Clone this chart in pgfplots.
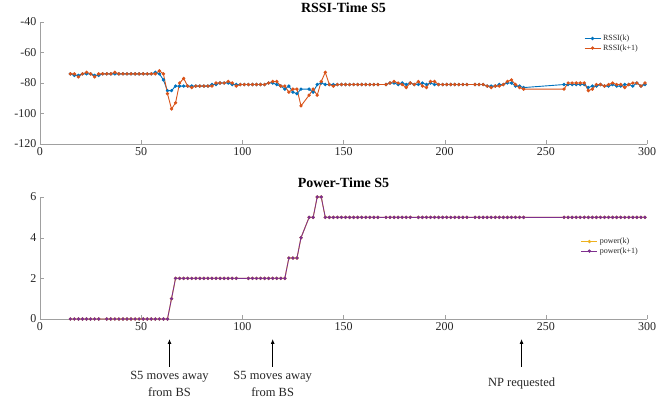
\documentclass[border=0pt]{standalone}
\usepackage{fontspec}
\setmainfont{Liberation Serif}
\usepackage{pgfplots}
\usepackage{pgfplotstable}
\pgfplotsset{compat=1.18}
\usetikzlibrary{arrows.meta}

\definecolor{mblue}{RGB}{0,114,189}
\definecolor{morange}{RGB}{217,83,25}
\definecolor{myellow}{RGB}{237,177,32}
\definecolor{mpurple}{RGB}{126,47,142}
\definecolor{axgray}{RGB}{160,160,160}
\definecolor{txtgray}{RGB}{38,38,38}

% t  rssi(k)  rssi(k+1)
\pgfplotstableread{
t k k1
15 -74 -74
17 -75 -74
19 -75 -76
21 -74 -74
23 -74 -73
25 -74 -74
27 -75 -76
29 -75 -74
31 -74 -74
33 -74 -74
35 -74 -74
37 -74 -73
39 -74 -74
41 -74 -74
43 -74 -74
45 -74 -74
47 -74 -74
49 -74 -74
51 -74 -74
53 -74 -74
55 -74 -74
57 -73 -74
59 -74 -72
61 -78 -74
63 -85 -87
65 -85 -97
67 -82 -93
69 -82 -80
71 -82 -77
73 -82 -82
75 -82 -83
77 -82 -82
79 -82 -82
81 -82 -82
83 -82 -82
85 -81 -82
87 -81 -80
89 -80 -80
91 -80 -80
93 -80 -79
95 -81 -80
97 -81 -82
99 -81 -81
101 -81 -81
103 -81 -81
105 -81 -81
107 -81 -81
109 -81 -81
111 -81 -81
113 -80 -80
115 -80 -79
117 -81 -79
119 -82 -82
121 -84 -82
123 -82 -86
125 -86 -84
127 -87 -84
129 -84 -95
133 -84 -88
135 -86 -84
137 -81 -88
139 -80 -79
141 -81 -73
143 -81 -81
145 -81 -82
147 -81 -81
149 -81 -81
151 -81 -81
153 -81 -81
155 -81 -81
157 -81 -81
159 -81 -81
161 -81 -81
163 -81 -81
165 -81 -81
167 -81 -81
171 -81 -81
173 -80 -80
175 -80 -79
177 -81 -80
179 -80 -81
181 -81 -83
183 -80 -80
185 -81 -81
187 -81 -79
189 -80 -82
191 -81 -83
193 -80 -79
195 -81 -79
197 -81 -81
199 -81 -81
201 -81 -81
203 -81 -81
205 -81 -81
207 -81 -81
209 -81 -81
211 -81 -81
215 -81 -81
217 -81 -81
219 -81 -81
221 -82 -82
223 -82 -83
225 -82 -82
227 -81 -82
229 -81 -81
231 -80 -79
233 -80 -78
235 -82 -81
237 -82 -83
239 -83 -84
259 -81 -84
261 -81 -80
263 -81 -80
265 -81 -80
267 -81 -80
269 -81 -80
271 -83 -85
273 -82 -84
275 -82 -81
277 -81 -81
279 -82 -82
281 -82 -81
283 -81 -80
285 -82 -81
287 -82 -81
289 -81 -83
291 -81 -81
293 -82 -80
295 -80 -80
297 -82 -82
299 -81 -80
}\rssi

% t  power
\pgfplotstableread{
t p
15 0
17 0
19 0
21 0
23 0
25 0
27 0
29 0
33 0
35 0
37 0
39 0
41 0
43 0
45 0
47 0
49 0
51 0
53 0
55 0
57 0
59 0
61 0
63 0
65 1
67 2
69 2
71 2
73 2
75 2
77 2
79 2
81 2
83 2
85 2
87 2
89 2
91 2
93 2
95 2
97 2
103 2
105 2
107 2
109 2
111 2
113 2
115 2
117 2
119 2
121 2
123 3
125 3
127 3
129 4
133 5
135 5
137 6
139 6
141 5
143 5
145 5
147 5
149 5
151 5
153 5
155 5
157 5
159 5
161 5
163 5
165 5
167 5
171 5
173 5
175 5
177 5
179 5
181 5
183 5
187 5
189 5
191 5
193 5
195 5
197 5
199 5
201 5
203 5
205 5
207 5
209 5
211 5
215 5
217 5
219 5
221 5
223 5
225 5
227 5
229 5
231 5
233 5
235 5
237 5
239 5
259 5
261 5
263 5
265 5
267 5
269 5
271 5
273 5
275 5
277 5
279 5
281 5
283 5
285 5
287 5
289 5
291 5
293 5
295 5
297 5
299 5
}\power

\pgfplotsset{
  mstyle/.style={
    scale only axis, width=607pt, height=122pt,
    xmin=0, xmax=300, xtick={0,50,...,300},
    axis x line*=bottom, axis y line*=left,
    axis line style={axgray, -}, tick style={axgray},
    tick align=inside, major tick length=4pt,
    ticklabel style={font=\fontsize{12}{14}\selectfont, text=txtgray},
    /pgf/number format/assume math mode=true,
    title style={font=\fontsize{14}{16}\selectfont\bfseries, at={(0.5,1)}, anchor=base, yshift=4pt},
    legend style={draw=none, fill=none, font=\fontsize{8}{9}\selectfont, text=txtgray,
      row sep=-1.5pt, inner sep=1pt},
    legend cell align=left,
    legend image code/.code={
      \draw[##1, mark repeat=2, mark phase=2] plot coordinates {(0pt,0pt) (8pt,0pt) (16pt,0pt)};
    },
    every axis plot/.append style={line width=0.9pt, mark=*, mark size=1.2pt},
  }
}

\begin{document}
\begin{tikzpicture}
\path[use as bounding box] (-40pt,144pt) rectangle (628pt,-261pt);

\begin{axis}[mstyle, at={(0,0)}, anchor=south west,
  title={RSSI-Time S5},
  ymin=-120, ymax=-40, ytick={-120,-100,...,-40},
  legend style={at={(0.99,0.92)}, anchor=north east}]
\addplot[mblue] table[x=t, y=k] {\rssi};
\addplot[morange] table[x=t, y=k1] {\rssi};
\legend{RSSI(k), RSSI(k+1)}
\end{axis}

\begin{axis}[mstyle, at={(0,-175pt)}, anchor=south west,
  title={Power-Time S5}, clip=false,
  ymin=0, ymax=6, ytick={0,2,4,6},
  legend style={at={(0.99,0.69)}, anchor=north east}]
\addplot[myellow] table[x=t, y=p] {\power};
\addplot[mpurple] table[x=t, y=p] {\power};
\legend{power(k), power(k+1)}
\draw[-{Latex[length=5pt,width=4pt]}, line width=1pt] (axis cs:64,-2.35) -- (axis cs:64,-0.98);
\draw[-{Latex[length=5pt,width=4pt]}, line width=1pt] (axis cs:115,-2.35) -- (axis cs:115,-0.98);
\draw[-{Latex[length=5pt,width=4pt]}, line width=1pt] (axis cs:238,-2.35) -- (axis cs:238,-0.98);
\node[align=center, font=\fontsize{12.5}{17}\selectfont, text=txtgray] at (axis cs:64,-3.2) {S5 moves away\\from BS};
\node[align=center, font=\fontsize{12.5}{17}\selectfont, text=txtgray] at (axis cs:115,-3.2) {S5 moves away\\from BS};
\node[align=center, font=\fontsize{12.5}{17}\selectfont, text=txtgray] at (axis cs:238,-3.15) {NP requested};
\end{axis}
\end{tikzpicture}
\end{document}
